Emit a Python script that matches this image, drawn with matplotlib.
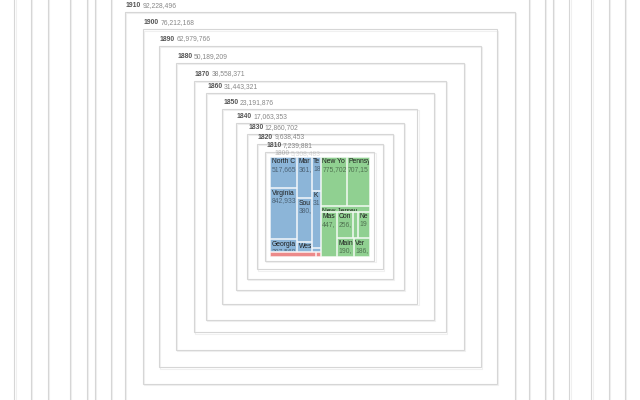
import numpy as np
import matplotlib
matplotlib.use("Agg")
import matplotlib.pyplot as plt
from matplotlib.patches import Rectangle
from matplotlib.transforms import Bbox

plt.rcParams['font.family'] = ['Liberation Sans', 'DejaVu Sans']

# ---- census totals (nested boxes) ----
years = [1800, 1810, 1820, 1830, 1840, 1850, 1860, 1870, 1880, 1890, 1900,
         1910, 1920, 1930, 1940, 1950, 1960, 1970, 1980]
populations = [5308483, 7239881, 9638453, 12860702, 17063353, 23191876,
               31443321, 38558371, 50189209, 62979766, 76212168, 92228496,
               106021537, 123202624, 132164569, 151325798, 179323175,
               203211926, 226545805]

# ---- state populations shown in the inner treemap ----
states = ['North Carolina', 'Virginia', 'Georgia',
          'Maryland', 'South Carolina', 'West Virginia',
          'Tennessee', 'Kentucky', 'Mississippi',
          'Ohio', 'Indiana',
          'New York', 'Pennsylvania', 'New Jersey',
          'Massachusetts', 'Connecticut', 'Rhode Island', 'New Hampshire',
          'Maine', 'Vermont']
state_values = [517665, 842933, 207560,
                361047, 380353, 92030,
                183664, 313733, 19453,
                138062, 15080,
                775702, 707153, 170000,
                447443, 256472, 73027, 199159,
                190212, 186180]
state_regions = ['South'] * 9 + ['Midwest'] * 2 + ['Northeast'] * 9

region_colors = {'South': '#8cb5d8', 'Northeast': '#90d091', 'Midwest': '#ec8a8a'}

# slice-and-dice grouping of the treemap
tree = ('x', [
    ('y', [
        ('x', [('y', ['North Carolina', 'Virginia', 'Georgia']),
               ('y', ['Maryland', 'South Carolina', 'West Virginia']),
               ('y', ['Tennessee', 'Kentucky', 'Mississippi'])]),
        ('x', ['Ohio', 'Indiana']),
    ]),
    ('y', [
        ('y', [('x', ['New York', 'Pennsylvania']), 'New Jersey']),
        ('x', ['Massachusetts',
               ('y', [('x', ['Connecticut', 'Rhode Island', 'New Hampshire']),
                      ('x', ['Maine', 'Vermont'])])]),
    ]),
])

val = dict(zip(states, state_values))
reg = dict(zip(states, state_regions))


def node_value(n):
    if isinstance(n, str):
        return val[n]
    return sum(node_value(k) for k in n[1])


def layout(n, x, y, w, h, out):
    if isinstance(n, str):
        out[n] = (x, y, w, h)
        return
    d, kids = n
    tot = node_value(n)
    pos = 0.0
    for k in kids:
        f = node_value(k) / tot
        if d == 'x':
            layout(k, x + pos * w, y, f * w, h, out)
        else:
            layout(k, x, y + pos * h, w, f * h, out)
        pos += f


W, H = 640, 400
CX, CY = 319.8, 206.5
K = 0.04057   # pixels per sqrt(person)
FS = 4.9

fig = plt.figure(figsize=(W / 100, H / 100), dpi=100)
ax = fig.add_axes([0, 0, 1, 1])
ax.set_xlim(0, W)
ax.set_ylim(H, 0)
ax.axis('off')
renderer = fig.canvas.get_renderer()

# nested census boxes, largest first
for yr, p in sorted(zip(years, populations), key=lambda t: -t[1]):
    s = K * np.sqrt(p)
    x0, y0 = CX - s / 2, CY - s / 2
    if yr == 1800:
        continue
    ax.add_patch(Rectangle((x0 + 1.2, y0 + 1.2), s, s, fill=False,
                           ec='#f0f0f0', lw=0.8))
    ax.add_patch(Rectangle((x0, y0), s, s, fill=False, ec='#d6d6d6', lw=0.8))
    if y0 - 10 < 0:
        continue  # label lies above the visible canvas
    t = ax.text(x0 + 1, y0 - 3.0, str(yr), fontsize=FS, fontweight='bold',
                color='#555555', va='bottom', ha='left')
    ax.annotate(f'{p:,}', xy=(1, 0), xycoords=t, xytext=(1.0, 0),
                textcoords='offset points', fontsize=FS, color='#888888',
                va='bottom', ha='left')

# inner treemap
total = sum(state_values)
side = K * np.sqrt(total)
tx0, ty0 = CX - side / 2, CY - side / 2
rects = {}
layout(tree, tx0, ty0, side, side, rects)


def clip_box(x, y, w, h):
    pts = ax.transData.transform([[x, y], [x + w, y + h]])
    return Bbox.from_extents(pts[:, 0].min(), pts[:, 1].min(),
                             pts[:, 0].max(), pts[:, 1].max())


def fit_text(t, avail):
    s = t.get_text()
    while s and t.get_window_extent(renderer).width > avail:
        s = s[:-1]
        t.set_text(s)
    return t


for name in states:
    x, y, w, h = rects[name]
    r = Rectangle((x + 0.5, y + 0.5), w - 1, h - 1,
                  fc=region_colors[reg[name]], ec=(1, 1, 1, 0.45), lw=0.6)
    ax.add_patch(r)
    if h < 5:
        continue
    cb = clip_box(x + 0.5, y + 0.5, w - 1, h - 1)
    avail = w - 3.3 + 2.3
    t1 = ax.text(x + 1.8, y + 2.0, name, fontsize=FS, color='#1e1e1e',
                 va='top', ha='left', clip_on=True)
    fit_text(t1, avail)
    t1.set_clip_box(cb)
    if h > 10:
        t2 = ax.text(x + 1.8, y + 9.5, f'{val[name]:,}', fontsize=FS,
                     color=(0, 0, 0, 0.45), va='top', ha='left', clip_on=True)
        fit_text(t2, avail)
        t2.set_clip_box(cb)

# faded label of the 1800 box
p1800 = populations[years.index(1800)]
s = K * np.sqrt(p1800)
x0, y0 = CX - s / 2, CY - s / 2
t = ax.text(x0 + 1, y0 - 3.0, '1800', fontsize=FS, fontweight='bold',
            color='#555555', alpha=0.3, va='bottom', ha='left', zorder=1)
ax.annotate(f'{p1800:,}', xy=(1, 0), xycoords=t, xytext=(1.0, 0),
            textcoords='offset points', fontsize=FS, color='#888888',
            alpha=0.3, va='bottom', ha='left', zorder=1)

fig.savefig('out.png', dpi=100, facecolor='white')
